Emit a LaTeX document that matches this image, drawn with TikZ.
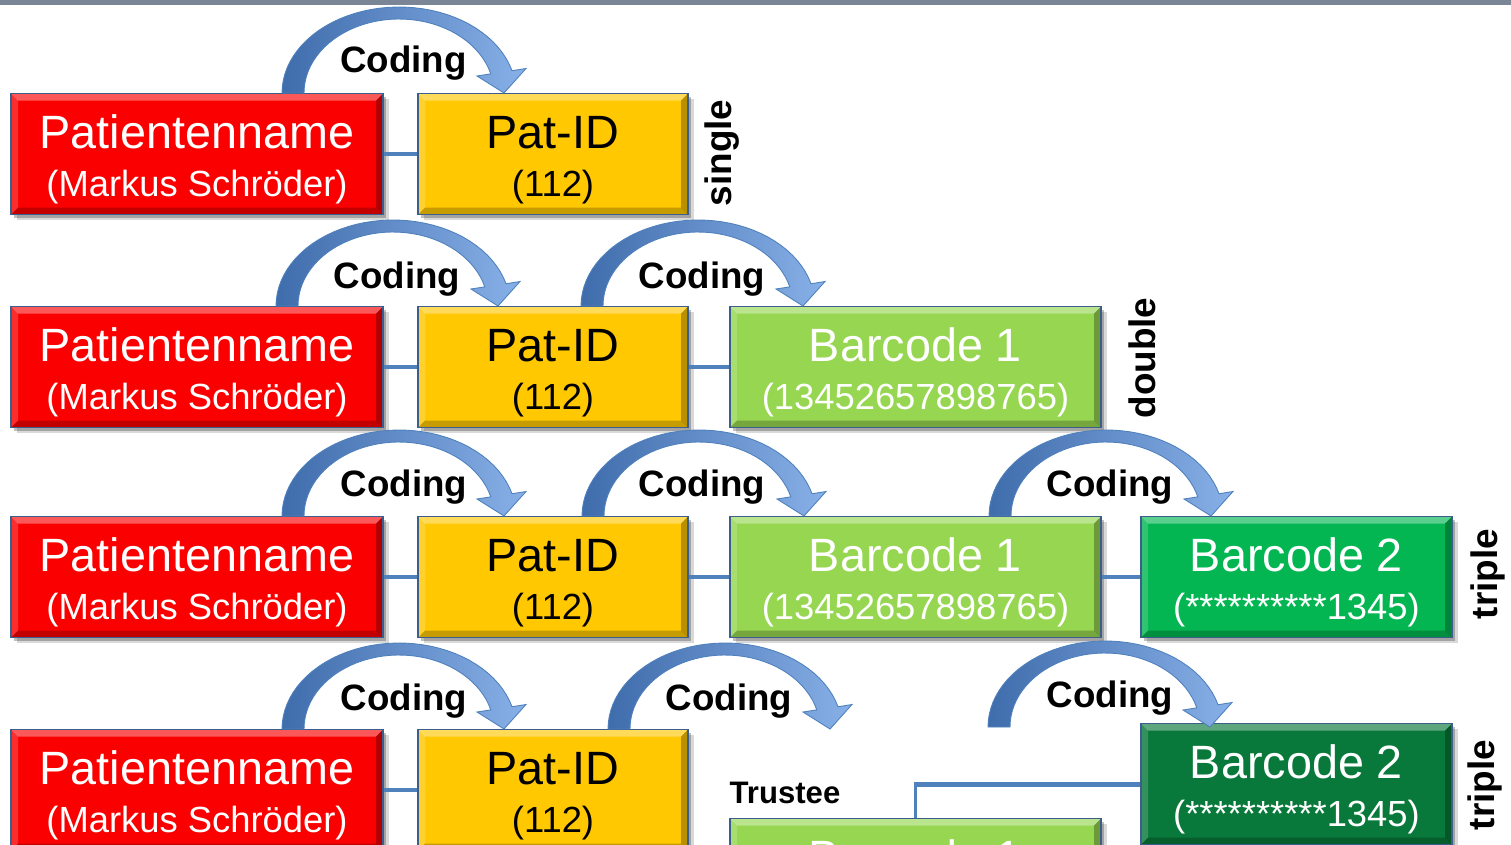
\documentclass[tikz,border=0pt]{standalone}
\usepackage{fontspec}
\setmainfont{Liberation Sans}
\usetikzlibrary{calc,shadows}
\definecolor{cred}{HTML}{FA0000}
\definecolor{cyel}{HTML}{FFC800}
\definecolor{clgr}{HTML}{96D650}
\definecolor{cgrn}{HTML}{03B652}
\definecolor{cdgr}{HTML}{08793A}
\definecolor{cline}{HTML}{4F81BD}
\definecolor{cedge}{HTML}{3B5E8C}
\definecolor{cbar}{HTML}{7A8696}
\definecolor{carA}{HTML}{3F6CAB}
\definecolor{carB}{HTML}{88B0E8}
\tikzset{
  bevel/.style={path picture={
    \path (path picture bounding box.north west) coordinate (pnw)
          (path picture bounding box.north east) coordinate (pne)
          (path picture bounding box.south west) coordinate (psw)
          (path picture bounding box.south east) coordinate (pse);
    \fill[white,opacity=.35] (pnw) -- (pne) -- ([shift={(-7,7)}]pne) -- ([shift={(7,7)}]pnw) -- cycle;
    \fill[white,opacity=.18] (pnw) -- ([shift={(7,7)}]pnw) -- ([shift={(7,-7)}]psw) -- (psw) -- cycle;
    \fill[black,opacity=.28] (pne) -- (pse) -- ([shift={(-7,-7)}]pse) -- ([shift={(-7,7)}]pne) -- cycle;
    \fill[black,opacity=.22] (psw) -- (pse) -- ([shift={(-7,-7)}]pse) -- ([shift={(7,-7)}]psw) -- cycle;
  }},
  box/.style={rectangle, inner sep=0pt, minimum height={121*0.02cm}, draw=cedge, line width=0.8pt,
    drop shadow={shadow xshift=3.2pt, shadow yshift=-3.2pt, opacity=0.15, fill=black},
    drop shadow={shadow xshift=1.6pt, shadow yshift=-1.8pt, opacity=0.25, fill=black},
    bevel},
  big/.style={font=\fontsize{26.6}{30}\selectfont, inner sep=0pt},
  small/.style={font=\fontsize{20.7}{24}\selectfont, inner sep=0pt},
  coding/.style={font=\fontsize{20.9}{24}\selectfont\bfseries, inner sep=0pt, anchor=base},
  side/.style={font=\fontsize{21}{24}\selectfont\bfseries, inner sep=0pt, rotate=90},
  trustee/.style={font=\fontsize{17.7}{20}\selectfont\bfseries, inner sep=0pt},
  conn/.style={draw=cline, line width=2.2pt},
  arrowband/.style={draw=cline, line width=0.5pt, left color=carA, right color=carB}
}
\newcommand\pbox[8]{%
  \node[box, fill=#5, minimum width={#4*0.02cm}, anchor=north] (#1) at (#2,#3) {};
  \node[big, text=#8, anchor=base] (#1a) at ($(#1.north)+(0,55)$) {#6};
  \node[small, text=#8, anchor=base] (#1b) at ($(#1.north)+(0,103)$) {#7};
}
\newcommand\codearrow[2]{%
  \begin{scope}[shift={(#1,#2)}]
    \shadedraw[arrowband]
      (-11,0) -- plot[domain=180:345,samples=40] ({106+117*cos(\x)},{86*sin(\x)})
      -- (233,-24.5) -- (211,0) -- (184,-17)
      -- plot[domain=345:180,samples=40] ({106+95*cos(\x)},{74*sin(\x)}) -- cycle;
  \end{scope}}
\begin{document}
\begin{tikzpicture}[x=0.02cm, y=-0.02cm]
\path[use as bounding box] (0,0) rectangle (1511,845);
\clip (0,0) rectangle (1511,845);
\fill[cbar] (0,0) rectangle (1511,5);

% row 1
\pbox{r1}{197}{93}{372}{cred}{Patientenname}{(Markus Schröder)}{white}
\pbox{p1}{553}{93}{270}{cyel}{Pat-ID}{(112)}{black}
\draw[conn] (r1.east) -- (p1.west);
\codearrow{293}{93}
\node[coding] (c1) at (403.5,72) {Coding};
\node[side] (s1) at (722,153) {single};

% row 2
\pbox{r2}{197}{306}{372}{cred}{Patientenname}{(Markus Schröder)}{white}
\pbox{p2}{553}{306}{270}{cyel}{Pat-ID}{(112)}{black}
\pbox{a2}{915.5}{306}{371}{clgr}{Barcode 1}{(13452657898765)}{white}
\draw[conn] (r2.east) -- (p2.west);
\draw[conn] (p2.east) -- (a2.west);
\codearrow{287}{306}
\codearrow{592}{306}
\node[coding] (c2a) at (397,288) {Coding};
\node[coding] (c2b) at (702,288) {Coding};
\node[side] (s2) at (1142,358) {double};

% row 3
\pbox{r3}{197}{516}{372}{cred}{Patientenname}{(Markus Schröder)}{white}
\pbox{p3}{553}{516}{270}{cyel}{Pat-ID}{(112)}{black}
\pbox{a3}{915.5}{516}{371}{clgr}{Barcode 1}{(13452657898765)}{white}
\pbox{b3}{1296.5}{516}{311}{cgrn}{Barcode 2}{(**********1345)}{white}
\draw[conn] (r3.east) -- (p3.west);
\draw[conn] (p3.east) -- (a3.west);
\draw[conn] (a3.east) -- (b3.west);
\codearrow{293}{516}
\codearrow{593}{516}
\codearrow{1000}{516}
\node[coding] (c3a) at (404,496) {Coding};
\node[coding] (c3b) at (702,496) {Coding};
\node[coding] (c3c) at (1110,496) {Coding};
\node[side] (s3) at (1488,574) {triple};

% row 4
\draw[conn] (915.5,818) |- (1141,785);
\pbox{r4}{197}{729}{372}{cred}{Patientenname}{(Markus Schröder)}{white}
\pbox{p4}{553}{729}{270}{cyel}{Pat-ID}{(112)}{black}
\pbox{a4}{915.5}{818}{371}{clgr}{Barcode 1}{(13452657898765)}{white}
\pbox{b4}{1296.5}{723}{311}{cdgr}{Barcode 2}{(**********1345)}{white}
\draw[conn] (r4.east) -- (p4.west);
\draw[conn] (a4.north) |- (b4.west);
\codearrow{293}{729}
\codearrow{619}{729}
\codearrow{999}{727}
\node[coding] (c4a) at (404,710) {Coding};
\node[coding] (c4b) at (729,710) {Coding};
\node[coding] (c4c) at (1110,707) {Coding};
\node[trustee] (tr) at (785,793) {Trustee};
\node[side] (s4) at (1485,785) {triple};
\end{tikzpicture}
\end{document}
